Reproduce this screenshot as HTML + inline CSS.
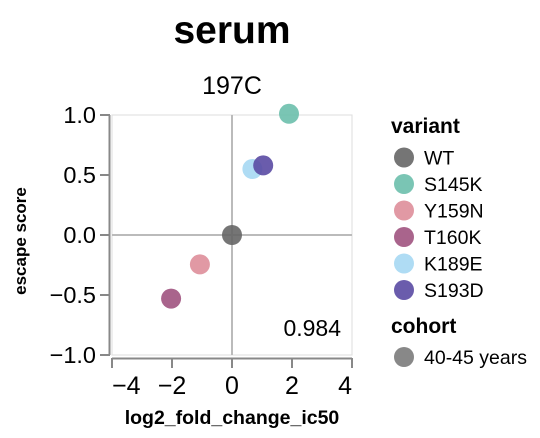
<!DOCTYPE html>
<html><head><meta charset="utf-8"><style>
body{margin:0;background:#fff;}
svg{font-family:"Liberation Sans",Arial,sans-serif;display:block}
</style></head><body>
<svg id="chart" width="540" height="438">
<text x="232" y="43" text-anchor="middle" font-size="39" font-weight="bold">serum</text>
<text x="232" y="94" text-anchor="middle" font-size="25">197C</text>
<rect x="112" y="115" width="240" height="240" fill="none" stroke="#ddd"/>
<g id="grid"></g><g id="axes"></g><g id="points"></g>
<text x="341" y="336" text-anchor="end" font-size="23">0.984</text>
<text x="232" y="424" text-anchor="middle" font-size="19.5" font-weight="bold">log2_fold_change_ic50</text>
<text transform="translate(26,241) rotate(-90)" text-anchor="middle" font-size="17" font-weight="bold">escape score</text>
<g id="legend"></g>
</svg>
<script>
const variants=["WT","S145K","Y159N","T160K","K189E","S193D"];
const colors=["#666666","#6cbfac","#de8e9a","#a0537f","#a6d8f3","#5a4aa3"];
const xValues=[0,1.9,-1.07,-2.03,0.68,1.04];
const yValues=[0,1.01,-0.245,-0.53,0.55,0.58];
const xTicks=[-4,-2,0,2,4];
const yTicks=[-1,-0.5,0,0.5,1];
const yTickLabels=["−1.0","−0.5","0.0","0.5","1.0"];
const cohorts=["40-45 years"];
const NS="http://www.w3.org/2000/svg";
const X=v=>232+v*30, Y=v=>235-v*120;
function mk(t,a,p){const e=document.createElementNS(NS,t);for(const k in a)e.setAttribute(k,a[k]);p.appendChild(e);return e;}
const grid=document.getElementById('grid'),axes=document.getElementById('axes'),pts=document.getElementById('points'),leg=document.getElementById('legend');
let g=mk('line',{x1:X(0),x2:X(0),y1:115,y2:355,stroke:'#bbb','stroke-width':2},grid);

g=mk('line',{x1:112,x2:352,y1:Y(0),y2:Y(0),stroke:'#bbb','stroke-width':2},grid);

let a=mk('line',{x1:112,x2:352,y1:358.5,y2:358.5,stroke:'#888','stroke-width':2},axes);

a=mk('line',{x1:109.5,x2:109.5,y1:115,y2:355,stroke:'#888','stroke-width':2},axes);

xTicks.forEach((t,i)=>{mk('line',{x1:X(t),x2:X(t),y1:358,y2:368,stroke:'#888','stroke-width':2},axes);
 const anc=i===0?'start':(i===xTicks.length-1?'end':'middle');
 const tx=mk('text',{x:X(t),y:394,'text-anchor':anc,'font-size':25},axes);tx.textContent=t<0?'−'+(-t):t;
 });
yTicks.forEach((t,i)=>{mk('line',{x1:100,x2:110,y1:Y(t),y2:Y(t),stroke:'#888','stroke-width':2},axes);
 const tx=mk('text',{x:96,y:Y(t)+8,'text-anchor':'end','font-size':23.5},axes);tx.textContent=yTickLabels[i];
 });
variants.forEach((v,i)=>{const c=mk('circle',{cx:X(xValues[i]),cy:Y(yValues[i]),r:10,fill:colors[i],'fill-opacity':0.9},pts);
 });
let t=mk('text',{x:391,y:133,'font-size':21,'font-weight':'bold'},leg);t.textContent='variant';

variants.forEach((v,i)=>{const y=157.5+i*26.5;
 const c=mk('circle',{cx:404,cy:y,r:10,fill:colors[i],'fill-opacity':0.9},leg);
 
 const tx=mk('text',{x:424,y:y+7,'font-size':19.5},leg);tx.textContent=v;
 });
t=mk('text',{x:391,y:333,'font-size':21,'font-weight':'bold'},leg);t.textContent='cohort';

cohorts.forEach((v,i)=>{const y=357+i*26;
 const c=mk('circle',{cx:404,cy:y,r:10,fill:'#888'},leg);
 
 const tx=mk('text',{x:424,y:y+7,'font-size':19.5},leg);tx.textContent=v;
 });
</script>
</body></html>
